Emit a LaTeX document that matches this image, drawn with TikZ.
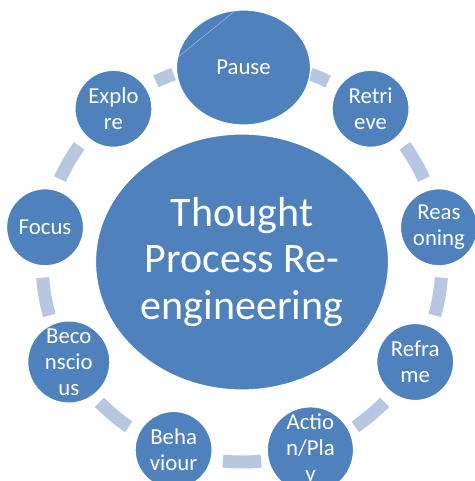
\documentclass[tikz,border=0pt]{standalone}
\usepackage{fontspec}
\setmainfont{Carlito}
\usetikzlibrary{shapes.geometric,calc}
\definecolor{nodeblue}{RGB}{79,129,189}
\definecolor{ringblue}{RGB}{183,198,225}

\begin{document}
\begin{tikzpicture}[x=1pt,y=1pt,
  ringseg/.style={draw=ringblue, line width=13pt},
  bubble/.style={circle, fill=nodeblue, draw=white, line width=1.2pt,
    minimum size=77pt, inner sep=0pt, text=white, align=center,
    font=\fontsize{22.8}{26}\selectfont},
  pausebox/.style={ellipse, fill=nodeblue, draw=white, line width=1.2pt,
    minimum width=134pt, minimum height=115pt, inner sep=0pt, text=white,
    font=\fontsize{22.8}{26}\selectfont},
  hub/.style={ellipse, fill=nodeblue, draw=white, line width=1.2pt,
    minimum width=293pt, minimum height=256pt, inner sep=0pt, text=white,
    align=center, font=\fontsize{42}{46.5}\selectfont}]
\useasboundingbox (0,0) rectangle (474,-481);
\coordinate (C) at (242,-262);

% ring segments between the outer bubbles
\foreach \a/\b in {70/64.5, 35.5/24.5, -4.5/-15.5, -44.5/-55.5, -84.5/-95.5,
                   -124.5/-135.5, -164.5/-175.5, 155.5/144.5, 115.5/110}
  \draw[ringseg] ($(C)+(\a:200pt)$) arc[start angle=\a, end angle=\b, radius=200pt];

% central hub
\node[hub] (hub) at (C) {Thought\\Process Re-\\engineering};

% outer bubbles
\node[pausebox] (pause) at (243.5,-67.5) {Pause};
\draw[white, line width=0.4pt, opacity=0.55] (pause.172) -- (pause.97);
\node[bubble] (retrieve)  at ($(C)+(50:200pt)$)   {Retri\\eve};
\node[bubble] (reasoning) at ($(C)+(10:200pt)$)   {Reas\\oning};
\node[bubble] (reframe)   at ($(C)+(-30:200pt)$)  {Refra\\me};
\node[bubble] (action)    at ($(C)+(-70:200pt)$)  {Actio\\n/Pla\\y};
\node[bubble] (behaviour) at ($(C)+(-110:200pt)$) {Beha\\viour};
\node[bubble] (becon)     at ($(C)+(-150:200pt)$) {Beco\\nscio\\us};
\node[bubble] (focus)     at ($(C)+(170:200pt)$)  {Focus};
\node[bubble] (explore)   at ($(C)+(130:200pt)$)  {Explo\\re};
\end{tikzpicture}
\end{document}
